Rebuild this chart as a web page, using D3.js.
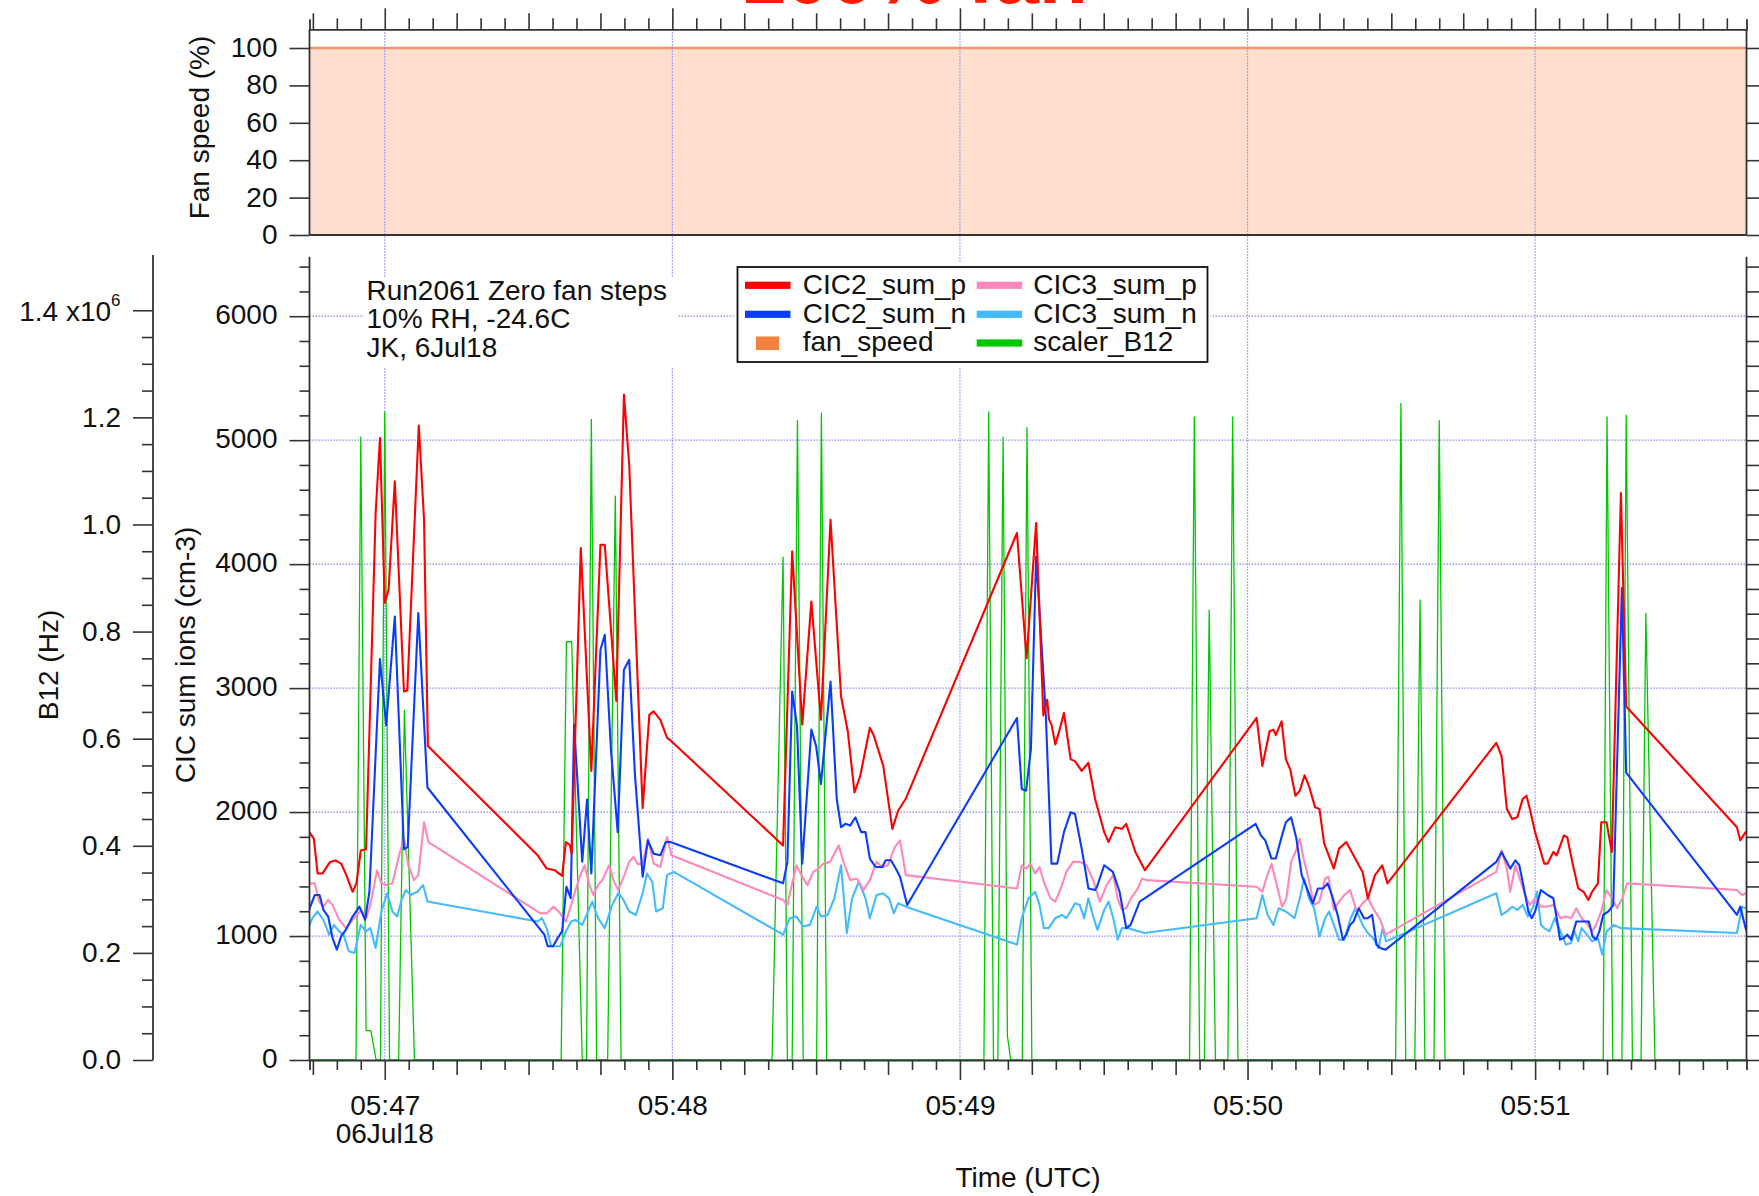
<!DOCTYPE html>
<html><head><meta charset="utf-8">
<script src="https://cdn.jsdelivr.net/npm/d3@7"></script>
<style>
html,body{margin:0;padding:0;background:#fff;}
svg{display:block;font-family:"Liberation Sans",Arial,Helvetica,sans-serif;}
</style></head><body>
<svg id="chart" width="1759" height="1196"></svg>
<script>
// ---------------- data (time in seconds relative to 05:47:00 UTC, 06 Jul 2018) ----------------
const baseTime = Date.UTC(2018, 6, 6, 5, 47, 0);
const titleText = "100% fan";
const noteLines = ["Run2061 Zero fan steps", "10% RH, -24.6C", "JK, 6Jul18"];
const dateLabel = "06Jul18";
const cicTicks = [0, 1000, 2000, 3000, 4000, 5000, 6000];
const b12Ticks = [0, 0.2e6, 0.4e6, 0.6e6, 0.8e6, 1.0e6, 1.2e6, 1.4e6];
const fanTicks = [0, 20, 40, 60, 80, 100];

const CIC2_sum_p = [[-15.8,1840],[-14.8,1785],[-14.0,1504],[-13.0,1504],[-11.4,1598],[-10.3,1610],[-9.1,1584],[-8.1,1500],[-6.7,1357],[-5.9,1427],[-5.0,1690],[-3.9,1700],[-1.9,4412],[-1.0,5018],[0.0,3686],[0.8,3793],[2.1,4668],[4.0,2973],[4.7,2980],[7.1,5117],[8.2,4358],[9.0,2532],
[31.9,1651],[33.8,1544],[35.5,1530],[37.0,1485],[37.8,1759],[38.6,1734],[39.0,1664],[40.9,4130],[43.1,2332],[45.0,4156],[45.9,4156],[48.3,2897],[49.9,5367],[51.0,4802],[53.8,2031],[55.2,2784],[56.1,2812],[57.5,2744],[58.9,2599],[59.8,2572],
[83.1,1731],[85.0,4103],[87.1,2705],[89.0,3699],[91.0,2746],[93.0,4358],[95.2,2932],[96.6,2652],[98.0,2158],[99.2,2292],[101.2,2680],[102.0,2620],[104.0,2373],[105.9,1864],[107.1,2011],[108.7,2107],
[131.9,4251],[133.9,3242],[135.9,4331],[137.4,2780],[138.2,2906],[138.6,2746],[139.1,2705],[139.9,2546],[140.8,2665],[141.7,2799],[143.1,2425],[144.0,2411],[145.4,2332],[146.8,2398],[148.2,2105],[150.1,1838],[151.0,1758],[152.4,1878],[153.8,1864],[154.7,1905],[156.6,1678],[158.6,1531],
[181.9,2759],[183.1,2372],[184.6,2652],[185.4,2665],[185.9,2620],[187.1,2732],[188.0,2425],[188.9,2345],[190.0,2132],[190.9,2172],[191.9,2297],[192.8,2212],[194.1,2038],[195.0,2025],[196.0,1745],[198.0,1544],[199.1,1705],[200.6,1758],[204.0,1517],[205.1,1304],[206.6,1491],[208.1,1571],[209.2,1425],
[231.9,2558],[233.0,2452],[234.1,2025],[235.2,1945],[236.3,1959],[237.4,2105],[238.2,2132],[238.9,2025],[240.0,1838],[241.9,1584],[242.6,1584],[243.8,1678],[244.5,1650],[246.0,1811],[246.7,1798],[247.9,1571],[249.0,1384],[250.1,1357],[251.1,1291],[251.9,1357],[253.1,1425],[253.8,1918],[254.9,1918],[256.0,1678],[257.9,4574],[259.0,2852],[282.1,1878],[282.8,1772],[283.9,1838],[284.6,1850]];

const CIC2_sum_n = [[-15.8,1211],[-14.6,1331],[-13.6,1331],[-12.8,1211],[-11.8,1157],[-10.9,984],[-10.0,890],[-9.1,997],[-8.1,1051],[-6.7,1157],[-5.3,1237],[-4.1,1131],[-3.2,1357],[-1.0,3234],[0.3,2700],[2.1,3578],[4.0,1700],[4.8,1720],[7.0,3606],[8.9,2198],
[33.3,1011],[34.0,917],[35.1,917],[36.1,985],[37.0,1037],[37.9,1398],[38.8,1305],[39.5,2705],[41.2,1600],[42.2,2100],[43.1,1504],[45.0,3309],[45.9,3430],[47.2,2500],[48.6,1838],[49.9,3148],[51.0,3228],[52.2,2300],[53.8,1478],[54.9,1772],[56.1,1664],[57.5,1651],[58.6,1758],[59.6,1758],
[83.1,1425],[84.0,1598],[85.0,2973],[86.0,2700],[87.1,1584],[89.0,2665],[90.0,2532],[91.0,2225],[93.0,3053],[94.3,2105],[95.2,1878],[96.1,1905],[97.1,1891],[98.2,1958],[99.4,1838],[100.3,1838],[101.2,1625],[102.4,1557],[103.8,1557],[104.5,1611],[105.6,1611],[106.6,1544],[107.5,1478],[109.0,1251],
[131.9,2759],[132.9,2185],[133.8,2172],[134.8,2505],[135.9,4062],[137.9,2800],[139.1,1584],[140.3,1584],[141.7,1838],[143.1,1998],[144.0,1985],[145.4,1705],[146.8,1384],[148.2,1371],[148.6,1398],[150.1,1571],[151.9,1517],[153.3,1357],[154.7,1064],[155.6,1090],[157.5,1278],[158.6,1305],
[181.7,1905],[182.8,1811],[183.7,1772],[185.0,1625],[185.9,1625],[187.1,1798],[188.0,1918],[189.1,1958],[190.2,1784],[191.3,1491],[192.4,1384],[193.6,1264],[194.7,1384],[195.8,1384],[196.7,1425],[197.6,1331],[198.8,1170],[199.9,971],[200.6,1011],[201.4,1090],[202.1,1117],[203.2,1224],[204.3,1144],[205.1,1144],[206.0,1170],[206.9,931],[207.7,904],[208.8,890],
[231.9,1598],[233.0,1678],[234.1,1598],[234.8,1544],[235.9,1611],[236.7,1571],[237.4,1438],[238.6,1198],[239.3,1144],[240.0,1198],[241.2,1371],[242.6,1331],[243.8,1305],[244.5,1144],[245.2,971],[246.0,984],[246.7,1011],[247.5,971],[248.6,1117],[250.1,1117],[251.2,1117],[252.0,997],[252.7,971],[253.4,1037],[254.2,1170],[255.3,1198],[256.3,1250],[258.1,3808],[259.0,2318],[282.1,1170],[282.8,1237],[283.9,1064],[284.6,1000]];

const CIC3_sum_p = [[-15.8,1425],[-14.6,1425],[-13.7,1278],[-12.8,1237],[-11.8,1291],[-10.9,1251],[-9.5,1130],[-8.1,1064],[-6.7,1130],[-5.8,1170],[-4.9,1211],[-3.9,1144],[-3.0,1251],[-1.6,1531],[-0.7,1425],[0.3,1411],[1.6,1425],[3.0,1651],[4.0,1785],[4.9,1571],[6.1,1451],[7.0,1491],[8.2,1918],[9.1,1758],
[32.4,1184],[33.8,1184],[35.2,1237],[36.3,1197],[37.8,1117],[38.9,1251],[39.8,1371],[40.7,1480],[41.7,1571],[42.6,1425],[43.5,1331],[44.5,1411],[45.4,1451],[46.8,1571],[47.7,1451],[48.7,1371],[50.0,1491],[51.0,1600],[51.9,1638],[52.8,1580],[53.8,1584],[54.9,1785],[56.1,1584],[57.5,1557],[58.9,1798],[59.8,1651],
[83.1,1291],[84.0,1251],[85.0,1425],[85.9,1571],[87.1,1478],[88.2,1411],[89.4,1517],[90.5,1544],[91.5,1584],[92.9,1598],[94.7,1731],[95.7,1598],[97.1,1451],[98.5,1464],[99.9,1371],[101.2,1451],[102.6,1598],[103.8,1557],[105.0,1571],[106.4,1718],[107.5,1772],[108.7,1491],
[131.9,1384],[132.9,1571],[133.8,1544],[134.7,1584],[135.7,1504],[136.6,1557],[137.5,1438],[138.9,1304],[139.9,1278],[141.3,1411],[142.2,1517],[143.6,1598],[145.0,1598],[146.4,1571],[147.8,1451],[149.2,1278],[150.6,1411],[152.0,1491],[152.9,1304],[153.8,1211],[154.7,1224],[155.7,1304],[157.1,1384],[158.0,1464],[158.9,1451],
[181.9,1398],[183.1,1357],[183.9,1464],[185.0,1584],[186.1,1411],[187.2,1237],[188.1,1304],[189.1,1598],[190.0,1678],[190.9,1785],[191.7,1625],[192.8,1451],[193.9,1251],[195.0,1278],[196.2,1464],[196.9,1478],[198.0,1211],[199.1,1278],[200.2,1331],[201.4,1371],[202.8,1198],[204.0,1264],[205.1,1304],[206.2,1224],[207.7,1131],[208.8,1011],
[231.9,1517],[233.0,1691],[234.1,1544],[234.8,1357],[235.9,1571],[237.0,1438],[238.2,1304],[238.9,1251],[240.0,1304],[241.2,1237],[242.3,1237],[243.8,1251],[245.3,1144],[246.4,1157],[247.5,1144],[248.6,1224],[249.7,1144],[250.8,1104],[251.9,1037],[252.7,1090],[253.8,1198],[254.9,1371],[256.0,1304],[257.1,1224],[258.2,1304],[259.2,1425],[282.1,1371],[283.2,1331],[283.9,1345],[284.6,1345]];

const CIC3_sum_n = [[-15.8,1077],[-15.1,1144],[-14.0,1198],[-12.8,1131],[-11.6,1011],[-10.6,1090],[-9.5,1037],[-8.6,1011],[-7.5,877],[-6.3,864],[-5.0,1090],[-3.9,1037],[-3.0,1064],[-1.9,904],[-0.7,1198],[0.5,1345],[1.6,1198],[2.6,1157],[3.5,1291],[4.4,1371],[5.4,1331],[6.8,1357],[8.0,1411],[8.9,1278],
[31.9,1117],[32.8,1144],[33.8,1064],[34.7,917],[36.6,917],[37.8,1037],[38.9,1117],[39.8,1131],[41.2,1090],[42.1,1170],[43.3,1278],[44.5,1144],[45.9,1064],[47.3,1237],[48.7,1345],[49.6,1304],[51.0,1198],[52.4,1170],[53.8,1345],[54.7,1504],[55.8,1438],[56.6,1198],[58.0,1224],[58.9,1491],[60.3,1517],
[83.1,1011],[84.5,1144],[85.9,1157],[87.3,1077],[88.7,1090],[90.1,1237],[91.0,1157],[92.4,1170],[93.8,1304],[95.2,1571],[96.4,1024],[97.5,1304],[98.9,1438],[100.3,1304],[101.2,1144],[102.6,1331],[104.0,1345],[105.2,1304],[106.2,1184],[107.1,1264],[108.7,1237],
[131.9,931],[132.9,1144],[134.3,1304],[135.7,1357],[136.6,1251],[137.5,1064],[138.5,1064],[139.9,1144],[141.3,1170],[142.2,1144],[143.1,1200],[144.0,1264],[145.0,1251],[145.9,1144],[146.8,1304],[147.8,1157],[148.7,1050],[150.1,1211],[151.0,1278],[152.0,1144],[152.9,971],[153.8,1064],[155.2,1064],[156.1,1050],[157.5,1037],[158.5,1024],
[181.9,1144],[183.1,1331],[184.2,1170],[185.4,1090],[186.5,1224],[188.0,1198],[189.8,1144],[190.9,1304],[191.8,1464],[192.8,1304],[193.9,1224],[195.0,997],[196.2,1144],[197.0,1198],[198.0,1090],[199.1,971],[200.2,971],[201.4,1131],[202.5,1224],[204.0,1090],[205.1,1024],[206.2,984],[207.3,904],[208.2,1064],[208.9,957],
[231.9,1345],[233.0,1170],[234.1,1198],[235.2,1237],[236.3,1211],[237.4,1251],[238.5,1157],[239.6,1237],[240.4,1357],[241.2,1090],[241.9,1064],[243.0,1037],[244.1,1144],[245.3,1037],[246.4,931],[247.5,944],[248.2,1037],[249.0,957],[249.7,1064],[250.8,1011],[251.9,957],[253.1,984],[254.0,851],[254.9,1037],[256.4,1090],[257.9,1064],[282.1,1024],[283.2,1237],[283.9,1224],[284.6,1224]];

const scaler_B12 = [[-15.8,0],[-6.0,0],[-5.0,1.163e6],[-3.9,0.055e6],[-2.9,0.055e6],[-1.8,0],[-0.9,0],[0.0,1.21e6],[1.0,0],[2.9,0],[4.1,0.653e6],[6.2,0],
[36.8,0],[37.9,0.781e6],[39.0,0.781e6],[41.2,0],[42.1,0],[43.1,1.196e6],[44.2,0],[46.5,0],[48.1,1.053e6],[49.3,0],
[80.8,0],[83.1,0.939e6],[84.0,0],[85.0,0],[86.1,1.194e6],[87.3,0],[90.1,0],[91.1,1.208e6],[92.2,0],
[125.0,0],[126.0,1.21e6],[127.0,0],[127.9,0],[129.0,1.163e6],[129.9,0.045e6],[130.6,0],[133.0,0],[134.0,1.181e6],[135.0,0],
[167.9,0],[168.9,1.201e6],[170.0,0],[171.0,0],[172.0,0.84e6],[173.3,0],[175.9,0],[176.9,1.201e6],[178.0,0],
[210.9,0],[212.0,1.226e6],[213.0,0],[214.9,0],[216.0,0.859e6],[217.0,0],[218.9,0],[220.0,1.194e6],[221.2,0],
[254.2,0],[255.0,1.201e6],[256.2,0],[258.1,0],[259.0,1.204e6],[260.3,0],[262.1,0],[263.1,0.834e6],[265.0,0],[284.6,0]];

const fan_speed = [[-15.8,100],[284.6,100]];

const seriesNames = ["CIC2_sum_p","CIC3_sum_p","CIC2_sum_n","CIC3_sum_n","fan_speed","scaler_B12"];

// ---------------- layout & styles ----------------
const C = {red:"#ff0000", blue:"#0a3cff", pink:"#ff88bb", lblue:"#44bbff", green:"#00c800",
           fanFill:"#fedece", fanLine:"#f5956a", fanSw:"#f58040", grid:"#8a8aff", axis:"#333"};
const L = 309.5, R = 1746.5;
const fanTop = 29.3, fanBot = 235;
const mainTop = 256.7, mainBot = 1060;
const b12X = 153;
const FS = 28;

const toDate = s => new Date(baseTime + s * 1000);
const x = d3.scaleUtc().domain([toDate(-15.7), toDate(284.1)]).range([L, R]);
const yFan = d3.scaleLinear().domain([0, 110]).range([fanBot, fanTop]);
const y = d3.scaleLinear().domain([0, 6480]).range([mainBot, mainTop]);
const yB = d3.scaleLinear().domain([0, 1.5e6]).range([mainBot, mainTop]);

const svg = d3.select("#chart");
const defs = svg.append("defs");
defs.append("clipPath").attr("id","clipMain").append("rect")
  .attr("x", L).attr("y", mainTop).attr("width", R - L).attr("height", mainBot - mainTop);
defs.append("clipPath").attr("id","clipFan").append("rect")
  .attr("x", L).attr("y", fanTop).attr("width", R - L).attr("height", fanBot - fanTop);

// title (mostly outside the top edge, as in the reference)
svg.append("text").attr("x", 741).attr("y", 3).attr("font-size", 80).attr("font-weight", "bold")
  .attr("fill", "#ff1a00").text(titleText);

// ---------------- fan panel ----------------
const fanG = svg.append("g").attr("clip-path","url(#clipFan)");
fanG.append("path").datum(fan_speed)
  .attr("d", d3.area().x(d => x(toDate(d[0]))).y0(yFan(0)).y1(d => yFan(d[1])))
  .attr("fill", C.fanFill);

// ---------------- grid ----------------
const minutes = x.ticks(d3.utcMinute.every(1));
const gridG = svg.append("g");
gridG.selectAll("line.v").data(minutes).join("line")
  .attr("x1", d => x(d)).attr("x2", d => x(d)).attr("y1", fanTop).attr("y2", mainBot)
  .attr("stroke", C.grid).attr("stroke-width", 1.2).attr("stroke-dasharray", "1.5,1.5");
gridG.selectAll("line.h").data(cicTicks.filter(v => v > 0)).join("line")
  .attr("x1", L).attr("x2", R).attr("y1", d => y(d)).attr("y2", d => y(d))
  .attr("stroke", C.grid).attr("stroke-width", 1.2).attr("stroke-dasharray", "1.5,1.5");

fanG.append("path").datum(fan_speed)
  .attr("d", d3.line().x(d => x(toDate(d[0]))).y(d => yFan(d[1])))
  .attr("fill", "none").attr("stroke", C.fanLine).attr("stroke-width", 2.5);

// ---------------- data lines ----------------
const plot = svg.append("g").attr("clip-path","url(#clipMain)");
const lineMain = d3.line().x(d => x(toDate(d[0]))).y(d => y(d[1]));
const lineB = d3.line().x(d => x(toDate(d[0]))).y(d => yB(d[1]));
plot.append("path").datum(scaler_B12).attr("d", lineB)
  .attr("fill","none").attr("stroke", C.green).attr("stroke-width", 1.3).attr("stroke-linejoin","round");
[[CIC3_sum_n, C.lblue],[CIC3_sum_p, C.pink],[CIC2_sum_n, C.blue],[CIC2_sum_p, C.red]].forEach(([data, col]) => {
  plot.append("path").datum(data).attr("d", lineMain)
    .attr("fill","none").attr("stroke", col).attr("stroke-width", 2.1).attr("stroke-linejoin","round");
});

// ---------------- axes ----------------
function styleAxis(g) {
  g.selectAll("path.domain").attr("stroke", C.axis).attr("stroke-width", 1.8);
  g.selectAll(".tick line").attr("stroke", C.axis).attr("stroke-width", 1.6);
  g.selectAll(".tick text").attr("font-size", FS).attr("fill", "#111")
    .attr("font-family", '"Liberation Sans",Arial,Helvetica,sans-serif');
}
const fiveSec = x.ticks(d3.utcSecond.every(5));
const tickLen = d => d.getUTCSeconds() === 0 ? 20 : (d.getUTCSeconds() % 15 === 0 ? 15 : 10);
const fmtHM = d3.utcFormat("%H:%M");

// bottom time axis
const gBottom = svg.append("g").attr("transform", `translate(0,${mainBot})`)
  .call(d3.axisBottom(x).tickValues(fiveSec).tickSizeOuter(0).tickSize(10)
    .tickFormat(d => d.getUTCSeconds() === 0 ? fmtHM(d) : ""));
styleAxis(gBottom);
gBottom.selectAll(".tick line").attr("y2", d => tickLen(d));
gBottom.selectAll(".tick text").attr("y", 55).attr("dy", "0");
svg.append("text").attr("x", x(toDate(0))).attr("y", 1143).attr("text-anchor","middle")
  .attr("font-size", FS).attr("fill","#111").text(dateLabel);

// top time axis of fan panel
const gTop = svg.append("g").attr("transform", `translate(0,${fanTop})`)
  .call(d3.axisTop(x).tickValues(fiveSec).tickSizeOuter(0).tickSize(10).tickFormat(""));
styleAxis(gTop);
gTop.selectAll(".tick line").attr("y2", d => -tickLen(d) - 1);

// fan panel bottom line
svg.append("line").attr("x1", L).attr("x2", R).attr("y1", fanBot).attr("y2", fanBot)
  .attr("stroke", C.axis).attr("stroke-width", 1.8);

// fan left axis
const gFanL = svg.append("g").attr("transform", `translate(${L},0)`)
  .call(d3.axisLeft(yFan).tickValues(fanTicks).tickSizeOuter(0).tickSize(20).tickPadding(12).tickFormat(d3.format("d")));
styleAxis(gFanL);
gFanL.select("path.domain").attr("d", `M0,${fanTop}V${fanBot}`);
gFanL.selectAll(".tick text").attr("dy", "0.3em");

// fan right axis
const gFanR = svg.append("g").attr("transform", `translate(${R},0)`)
  .call(d3.axisRight(yFan).tickValues(fanTicks).tickSizeOuter(0).tickSize(16).tickFormat(""));
styleAxis(gFanR);
gFanR.select("path.domain").attr("d", `M0,${fanTop}V${fanBot}`);

// CIC left axis
const cicAll = d3.range(0, 6401, 200);
const gCic = svg.append("g").attr("transform", `translate(${L},0)`)
  .call(d3.axisLeft(y).tickValues(cicAll).tickSizeOuter(0).tickSize(20).tickPadding(12)
    .tickFormat(d => cicTicks.includes(d) ? d3.format("d")(d) : ""));
styleAxis(gCic);
gCic.select("path.domain").attr("d", `M0,${mainTop}V${mainBot}`);
gCic.selectAll(".tick line").attr("x2", d => cicTicks.includes(d) ? -20 : -10);
gCic.selectAll(".tick text").attr("dy", "0.25em");

// CIC right (mirror) axis
const gCicR = svg.append("g").attr("transform", `translate(${R},0)`)
  .call(d3.axisRight(y).tickValues(cicAll).tickSizeOuter(0).tickSize(20).tickFormat(""));
styleAxis(gCicR);
gCicR.select("path.domain").attr("d", `M0,${mainTop}V${mainBot}`);
gCicR.selectAll(".tick line").attr("x2", d => cicTicks.includes(d) ? 20 : 14);

// B12 axis
const b12All = d3.range(0, 29).map(i => i * 0.05e6);
const isB12Major = d => b12Ticks.some(t => Math.abs(t - d) < 1);
const gB = svg.append("g").attr("transform", `translate(${b12X},0)`)
  .call(d3.axisLeft(yB).tickValues(b12All).tickSizeOuter(0).tickSize(20).tickPadding(12)
    .tickFormat(d => (isB12Major(d) && d < 1.3e6) ? (d / 1e6).toFixed(1) : ""));
styleAxis(gB);
gB.select("path.domain").attr("d", `M0,255V${mainBot}`);
gB.selectAll(".tick line").attr("x2", d => isB12Major(d) ? -20 : -11);
gB.selectAll(".tick text").attr("dy", "0.32em");
// top label with exponent
const topLab = svg.append("text").attr("x", b12X - 32.5).attr("y", yB(1.4e6)).attr("dy", "0.4em")
  .attr("text-anchor", "end").attr("font-size", FS).attr("fill", "#111");
topLab.append("tspan").text((1.4).toFixed(1) + " x10");
topLab.append("tspan").attr("font-size", 17).attr("dy", -15).text("6");

// axis titles
function vTitle(txt, xx, yy) {
  svg.append("text").attr("transform", `translate(${xx},${yy}) rotate(-90)`)
    .attr("text-anchor", "middle").attr("font-size", FS).attr("fill", "#111").text(txt);
}
vTitle("Fan speed (%)", 209, 127.5);
vTitle("CIC sum ions (cm-3)", 195, 655);
vTitle("B12 (Hz)", 58, 665);
svg.append("text").attr("x", 1028).attr("y", 1187).attr("text-anchor", "middle")
  .attr("font-size", FS).attr("fill", "#111").text("Time (UTC)");

// ---------------- annotation ----------------
svg.append("rect").attr("x", 364).attr("y", 278).attr("width", 314).attr("height", 89).attr("fill", "#fff");
noteLines.forEach((t, i) => {
  svg.append("text").attr("x", 366.5).attr("y", 300 + i * 28.4).attr("font-size", FS).attr("fill", "#111").text(t);
});

// ---------------- legend ----------------
const lg = svg.append("g");
lg.append("rect").attr("x", 733.5).attr("y", 263).attr("width", 477).attr("height", 104).attr("fill", "#fff");
lg.append("rect").attr("x", 737.5).attr("y", 267).attr("width", 470).attr("height", 95)
  .attr("fill", "none").attr("stroke", "#111").attr("stroke-width", 1.8);
const legendItems = [
  {name: seriesNames[0], col: C.red, cx: 0, row: 0},
  {name: seriesNames[1], col: C.pink, cx: 1, row: 0},
  {name: seriesNames[2], col: C.blue, cx: 0, row: 1},
  {name: seriesNames[3], col: C.lblue, cx: 1, row: 1},
  {name: seriesNames[4], col: C.fanSw, cx: 0, row: 2, square: true},
  {name: seriesNames[5], col: C.green, cx: 1, row: 2}
];
const swX = [745, 976.7], txX = [802.7, 1033.3], rowY = [285.3, 314.3, 343], baseY = [294, 322.5, 351];
legendItems.forEach(it => {
  if (it.square) {
    lg.append("rect").attr("x", 756).attr("y", rowY[it.row] - 6.5).attr("width", 23).attr("height", 13.5).attr("fill", it.col);
  } else {
    lg.append("rect").attr("x", swX[it.cx]).attr("y", rowY[it.row] - 3.6).attr("width", 45.5).attr("height", 7.2).attr("fill", it.col);
  }
  lg.append("text").attr("x", txX[it.cx]).attr("y", baseY[it.row]).attr("font-size", FS).attr("fill", "#111").text(it.name);
});
</script>
</body></html>
